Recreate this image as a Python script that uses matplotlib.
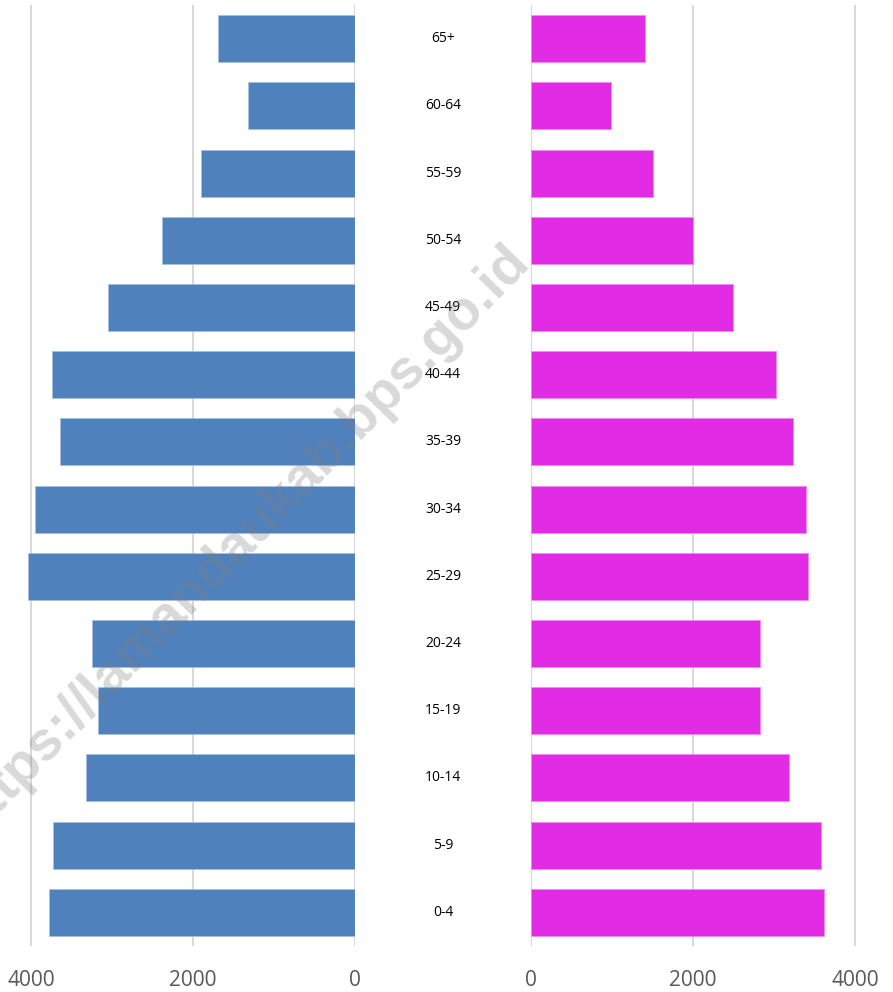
import matplotlib.pyplot as plt
from matplotlib.transforms import blended_transform_factory

# age groups, bottom to top
age_groups = ['0-4', '5-9', '10-14', '15-19', '20-24', '25-29', '30-34',
              '35-39', '40-44', '45-49', '50-54', '55-59', '60-64', '65+']
male = [3778, 3728, 3321, 3173, 3247, 4040, 3951,
        3642, 3741, 3049, 2383, 1901, 1321, 1691]
female = [3617, 3580, 3185, 2827, 2827, 3420, 3395,
          3235, 3025, 2494, 2000, 1506, 988, 1407]
ticks = [0, 2000, 4000]

plt.rcParams['font.family'] = ['Open Sans', 'DejaVu Sans']

W, H = 893, 992
fig = plt.figure(figsize=(W / 100, H / 100), dpi=100)

bottom = (H - 946) / H
height = 941 / H
ax_l = fig.add_axes([0, bottom, 355 / W, height])
ax_r = fig.add_axes([531 / W, bottom, 362 / W, height])

y = list(range(len(age_groups)))
ax_l.barh(y, male, height=0.7, color='#4F81BD', edgecolor='#A9C1E0', linewidth=0.6, zorder=2)
ax_r.barh(y, female, height=0.7, color='#E22BE4', edgecolor='#F08AF1', linewidth=0.6, zorder=2)

ax_l.set_xlim(355 / 162 * 2000, 0)
ax_r.set_xlim(0, 362 / 162 * 2000)

for ax in (ax_l, ax_r):
    ax.set_ylim(-0.5, len(age_groups) - 0.5)
    ax.set_xticks(ticks)
    ax.set_xticklabels([str(t) for t in ticks])
    ax.set_yticks([])
    ax.tick_params(axis='x', length=0, pad=17, labelsize=15, labelcolor='#595959')
    ax.grid(axis='x', color='#D9D9D9', linewidth=1.5, zorder=0)
    ax.set_axisbelow(True)
    for s in ax.spines.values():
        s.set_visible(False)
    ax.patch.set_alpha(0)

# category labels in the middle
trans = blended_transform_factory(fig.transFigure, ax_l.transData)
for i, lab in enumerate(age_groups):
    fig.text(443 / W, i, lab, transform=trans, ha='center', va='center',
             fontsize=10, color='black')

# watermark
fig.text(241 / W, 1 - 540 / H, 'https://lamandaukab.bps.go.id', rotation=45.8,
         ha='center', va='center', fontsize=40, fontweight='bold',
         family='Liberation Sans', color='#808080', alpha=0.3, zorder=10)

fig.savefig('out.png', dpi=100)
